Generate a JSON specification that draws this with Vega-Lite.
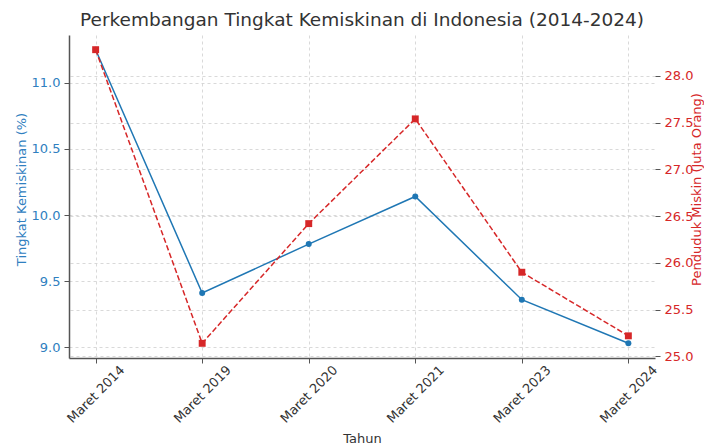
{
  "$schema": "https://vega.github.io/schema/vega-lite/v6.json",
  "width": 586,
  "height": 323,
  "autosize": {"type": "none"},
  "padding": {"left": 69, "top": 35, "right": 49, "bottom": 88},
  "background": "white",
  "title": {
    "text": "Perkembangan Tingkat Kemiskinan di Indonesia (2014-2024)",
    "font": "DejaVu Sans",
    "fontSize": 18.5,
    "fontWeight": "normal",
    "color": "#333333",
    "anchor": "middle",
    "offset": 6
  },
  "config": {
    "view": {"stroke": null},
    "axis": {
      "labelFont": "DejaVu Sans",
      "titleFont": "DejaVu Sans",
      "labelFontSize": 13,
      "titleFontSize": 13,
      "titleFontWeight": "normal",
      "gridColor": "#cfcfcf",
      "gridDash": [3, 3],
      "gridWidth": 0.8,
      "domainColor": "#555555",
      "domainWidth": 1.5,
      "tickColor": "#555555",
      "tickSize": 5
    }
  },
  "data": {
    "values": [
      {"tahun": "Maret 2014", "persen": 11.25, "juta": 28.28},
      {"tahun": "Maret 2019", "persen": 9.41, "juta": 25.14},
      {"tahun": "Maret 2020", "persen": 9.78, "juta": 26.42},
      {"tahun": "Maret 2021", "persen": 10.14, "juta": 27.54},
      {"tahun": "Maret 2023", "persen": 9.36, "juta": 25.90},
      {"tahun": "Maret 2024", "persen": 9.03, "juta": 25.22}
    ]
  },
  "encoding": {
    "x": {
      "field": "tahun",
      "type": "ordinal",
      "sort": null,
      "scale": {"type": "point", "padding": 0.25},
      "axis": {
        "title": "Tahun",
        "titleColor": "#333333",
        "labelColor": "#333333",
        "labelAngle": -45,
        "labelAlign": "center",
        "labelBaseline": "middle",
        "labelPadding": 31,
        "titlePadding": 7,
        "grid": true
      }
    }
  },
  "layer": [
    {
      "mark": {"type": "line", "color": "#1f77b4", "strokeWidth": 1.5, "point": {"filled": true, "size": 36, "color": "#1f77b4"}},
      "encoding": {
        "y": {
          "field": "persen",
          "type": "quantitative",
          "scale": {"domain": [8.919, 11.361], "nice": false, "zero": false},
          "axis": {
            "title": "Tingkat Kemiskinan (%)",
            "titleColor": "#2f80c0",
            "labelColor": "#2f80c0",
            "values": [9, 9.5, 10, 10.5, 11],
            "format": ".1f",
            "grid": true,
            "labelPadding": 4,
            "titlePadding": 3,
            "titleY": 154,
            "orient": "left"
          }
        }
      }
    },
    {
      "mark": {"type": "line", "color": "#d62728", "strokeWidth": 1.5, "strokeDash": [5.5, 2.5], "point": {"filled": true, "size": 48, "shape": "square", "color": "#d62728"}},
      "encoding": {
        "y": {
          "field": "juta",
          "type": "quantitative",
          "scale": {"domain": [24.983, 28.437], "nice": false, "zero": false},
          "axis": {
            "title": "Penduduk Miskin (Juta Orang)",
            "titleColor": "#d62728",
            "labelColor": "#d62728",
            "values": [25, 25.5, 26, 26.5, 27, 27.5, 28],
            "format": ".1f",
            "grid": true,
            "domain": false,
            "labelPadding": 4,
            "titleAngle": -90,
            "titleX": 41,
            "titleY": 154,
            "titleAlign": "center",
            "titleBaseline": "middle",
            "orient": "right"
          }
        }
      }
    }
  ],
  "resolve": {"scale": {"y": "independent"}}
}
